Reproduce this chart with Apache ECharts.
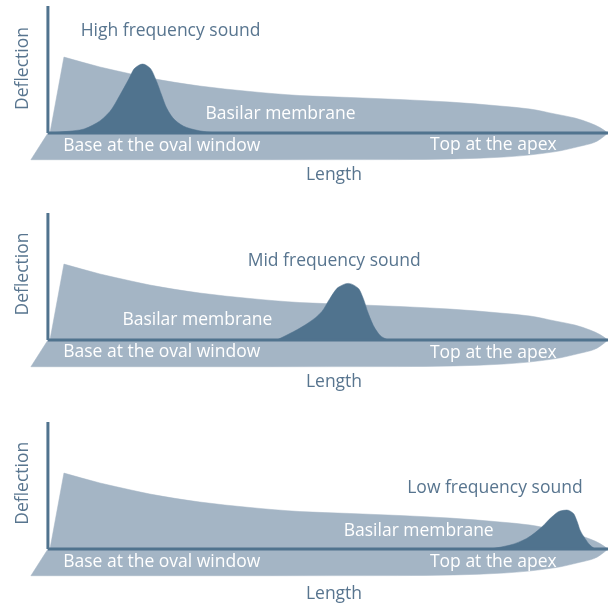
<!DOCTYPE html>
<html><head><meta charset="utf-8">
<script src="https://cdn.jsdelivr.net/npm/echarts@6/dist/echarts.min.js"></script>
<style>html,body{margin:0;padding:0;background:#fff}#c{width:608px;height:605px}</style>
</head><body><div id="c"></div>
<script>
// ---- data (length 0..100 along the membrane, deflection 0..100 up the axis) ----
const membraneEdgeX = [0.36, 2.86];
const membraneEdgeY = [0, 59.8];
const membraneX = [2.86, 9.29, 14.82, 18.21, 27.14, 36.07, 45.0, 53.93, 62.86, 71.79, 80.71, 86.07, 90.54, 94.11, 96.79, 98.57, 100];
const membraneY = [59.8, 52.0, 46.5, 43.3, 37.0, 32.7, 29.5, 28.0, 26.4, 24.4, 21.3, 18.9, 15.0, 11.8, 7.9, 4.3, 0];
const bandEdgeX = [0, -3.04];
const bandEdgeY = [0, -21];
const bandX = [0, 20, 40, 62.5, 72.5, 81.4, 90.4, 95.0, 97.5, 98.6, 100];
const bandY = [-21, -21, -21, -20.9, -20.4, -18.9, -14.8, -10.4, -7.5, -4.8, 0];
const peak1X = [0.36, 2.14, 5.71, 8.70, 11.07, 12.86, 14.34, 15.54, 16.91, 18.21, 19.41, 20.30, 21.20, 22.68, 24.77, 27.73, 30.13];
const peak1Y = [0, 0.8, 2.4, 7.9, 17.0, 29.9, 41.7, 51.2, 54.3, 51.2, 40.6, 29.9, 19.7, 10.2, 4.4, 1.3, 0];
const peak2X = [40.84, 43.80, 46.79, 48.88, 50.36, 51.84, 53.63, 55.41, 56.30, 57.20, 58.39, 59.59, 60.77];
const peak2Y = [0, 6.5, 14.4, 22.3, 32.8, 41.5, 44.6, 40.7, 32.8, 21.0, 9.2, 2.6, 0];
const peak3X = [78.93, 82.50, 85.48, 88.16, 89.95, 91.43, 92.63, 93.80, 94.52, 95.0, 95.89, 96.79, 97.68];
const peak3Y = [0, 3.1, 8.4, 17.3, 25.2, 29.9, 30.7, 28.1, 21.3, 15.0, 8.4, 3.1, 0];
const axisX = [0, 100];
const axisY = [0, 100];
const soundLabels = ['High frequency sound', 'Mid frequency sound', 'Low frequency sound'];
const membraneLabel = 'Basilar membrane';
const baseLabel = 'Base at the oval window';
const apexLabel = 'Top at the apex';
const xName = 'Length';
const yName = 'Deflection';

// ---- styling / layout ----
const LIGHT = '#a4b5c5', DARK = '#50738e', TEXT = '#58758f', WHITE = '#ffffff';
const FONT = '17.5px "Open Sans"';
const gridTops = [6, 213, 422];
const labelPos = [
  {sound: [170.5, 31], membrane: [280.5, 114], base: [161.7, 146], apex: [493.3, 145.5], len: [334, 175], defl: [23, 68.5]},
  {sound: [334.2, 261], membrane: [197.4, 320.5], base: [161.7, 352.5], apex: [493.3, 353], len: [334, 382.5], defl: [23, 274]},
  {sound: [494.9, 488], membrane: [418.7, 530.8], base: [161.7, 561.7], apex: [493.3, 562], len: [334, 594], defl: [23, 483.3]}
];
const peaksX = [peak1X, peak2X, peak3X];
const peaksY = [peak1Y, peak2Y, peak3Y];

const zip = (xs, ys) => xs.map((x, i) => [x, ys[i]]);

// monotone cubic (Fritsch-Carlson) through pixel points, returns "C ..." segments
function curveThrough(p) {
  const n = p.length;
  if (n < 2) return '';
  const dx = [], m = [];
  for (let i = 0; i < n - 1; i++) {
    dx.push(p[i + 1][0] - p[i][0]);
    m.push((p[i + 1][1] - p[i][1]) / dx[i]);
  }
  const t = new Array(n);
  t[0] = m[0]; t[n - 1] = m[n - 2];
  for (let i = 1; i < n - 1; i++) {
    if (m[i - 1] * m[i] <= 0) t[i] = 0;
    else t[i] = 3 * (dx[i - 1] + dx[i]) / ((2 * dx[i] + dx[i - 1]) / m[i - 1] + (dx[i] + 2 * dx[i - 1]) / m[i]);
  }
  let d = '';
  for (let i = 0; i < n - 1; i++) {
    const h = dx[i] / 3;
    d += ' C ' + (p[i][0] + h) + ' ' + (p[i][1] + t[i] * h) + ' ' +
         (p[i + 1][0] - h) + ' ' + (p[i + 1][1] - t[i + 1] * h) + ' ' + p[i + 1][0] + ' ' + p[i + 1][1];
  }
  return d;
}

// shape = straight lead-in points, then a smooth curve, closed along the baseline
function shapeSeries(gi, edgeX, edgeY, xs, ys, color, z) {
  const edge = zip(edgeX, edgeY), curve = zip(xs, ys);
  return {
    type: 'custom', xAxisIndex: gi, yAxisIndex: gi, silent: true, z: z,
    data: edge.concat(curve),
    renderItem: (params, api) => {
      if (params.dataIndex !== 0) return null;
      const e = edge.map(q => api.coord(q));
      const c = curve.map(q => api.coord(q));
      let d = '';
      e.forEach((q, i) => { d += (i === 0 ? 'M ' : ' L ') + q[0] + ' ' + q[1]; });
      d += (e.length ? ' L ' : 'M ') + c[0][0] + ' ' + c[0][1];
      d += curveThrough(c);
      const b = api.coord([curve[curve.length - 1][0], 0]);
      const a = api.coord([(edge.length ? edge[0][0] : curve[0][0]), 0]);
      d += ' L ' + b[0] + ' ' + b[1] + ' L ' + a[0] + ' ' + a[1] + ' Z';
      return {type: 'path', shape: {pathData: d}, style: {fill: color, stroke: color, lineWidth: 0.5}};
    }
  };
}
function lineSeries(gi, xs, ys) {
  return {
    type: 'line', xAxisIndex: gi, yAxisIndex: gi, silent: true, z: 5,
    data: zip(xs, ys), symbol: 'none', showSymbol: false,
    lineStyle: {width: 3, color: DARK, cap: 'butt'}
  };
}

const grids = [], xAxes = [], yAxes = [], series = [], graphics = [];
gridTops.forEach((top, gi) => {
  grids.push({left: 30, width: 578, top: top, height: 155});
  xAxes.push({type: 'value', gridIndex: gi, min: -3.2, max: 100, show: false});
  yAxes.push({type: 'value', gridIndex: gi, min: -22, max: 100, show: false});
  series.push(shapeSeries(gi, bandEdgeX, bandEdgeY, bandX, bandY, LIGHT, 2));
  series.push(shapeSeries(gi, membraneEdgeX, membraneEdgeY, membraneX, membraneY, LIGHT, 2));
  series.push(shapeSeries(gi, [], [], peaksX[gi], peaksY[gi], DARK, 3));
  series.push(lineSeries(gi, axisX, [0, 0]));
  series.push(lineSeries(gi, [0, 0], axisY));
  const lp = labelPos[gi];
  const txt = (s, p, fill, rot) => ({
    type: 'text', x: p[0], y: p[1], rotation: rot || 0, z: 100, silent: true,
    style: {text: s, fill: fill, font: FONT, textAlign: 'center', textVerticalAlign: 'middle'}
  });
  graphics.push(txt(soundLabels[gi], lp.sound, TEXT));
  graphics.push(txt(membraneLabel, lp.membrane, WHITE));
  graphics.push(txt(baseLabel, lp.base, WHITE));
  graphics.push(txt(apexLabel, lp.apex, WHITE));
  graphics.push(txt(xName, lp.len, TEXT));
  graphics.push(txt(yName, lp.defl, TEXT, Math.PI / 2));
});

const chart = echarts.init(document.getElementById('c'), null, {renderer: 'canvas'});
chart.setOption({
  animation: false,
  backgroundColor: '#ffffff',
  grid: grids, xAxis: xAxes, yAxis: yAxes, series: series, graphic: graphics
});
</script>
</body></html>
